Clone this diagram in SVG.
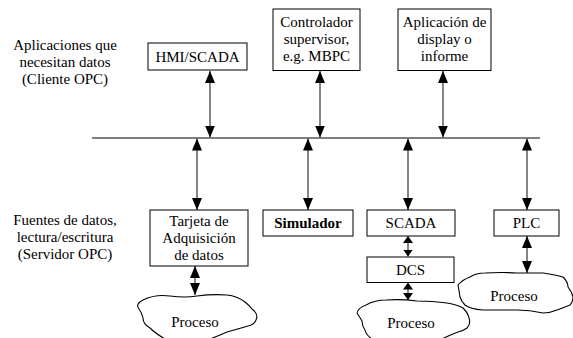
<svg xmlns="http://www.w3.org/2000/svg" width="573" height="338" viewBox="0 0 573 338">
<style>
text{font-family:"Liberation Serif","DejaVu Serif",serif;font-size:15px;fill:#000;text-anchor:middle}
.b{fill:#fff;stroke:#000;stroke-width:1}
.c{fill:#fff;stroke:#000;stroke-width:1.1}
.a{stroke:#444;stroke-width:1.3;fill:none}
.bus{stroke:#000;stroke-width:1}
</style>
<defs>
<marker id="h" viewBox="0 0 12 10" refX="12" refY="5" markerWidth="12" markerHeight="10" markerUnits="userSpaceOnUse" orient="auto-start-reverse"><path d="M0,0 L12,5 L0,10 z" fill="#000"/></marker>
<marker id="s" viewBox="0 0 7 10" refX="7" refY="5" markerWidth="7" markerHeight="10" markerUnits="userSpaceOnUse" orient="auto-start-reverse"><path d="M0,0 L7,5 L0,10 z" fill="#000"/></marker>
</defs>
<g id="labels" font-family="Liberation Serif, DejaVu Serif, serif">
<text x="65" y="50">Aplicaciones que</text>
<text x="65" y="67">necesitan datos</text>
<text x="65" y="84">(Cliente OPC)</text>
<text x="65" y="225">Fuentes de datos,</text>
<text x="65" y="242">lectura/escritura</text>
<text x="65" y="259">(Servidor OPC)</text>
</g>
<g id="connectors">
<line class="bus" x1="92" y1="138" x2="540" y2="138"/>
<line class="a" x1="210" y1="71" x2="210" y2="137.5" marker-start="url(#h)" marker-end="url(#h)"/>
<line class="a" x1="320" y1="71" x2="320" y2="137.5" marker-start="url(#h)" marker-end="url(#h)"/>
<line class="a" x1="443" y1="71" x2="443" y2="137.5" marker-start="url(#h)" marker-end="url(#h)"/>
<line class="a" x1="197" y1="138.5" x2="197" y2="210" marker-start="url(#h)" marker-end="url(#h)"/>
<line class="a" x1="308" y1="138.5" x2="308" y2="210" marker-start="url(#h)" marker-end="url(#h)"/>
<line class="a" x1="408" y1="138.5" x2="408" y2="210" marker-start="url(#h)" marker-end="url(#h)"/>
<line class="a" x1="527" y1="138.5" x2="527" y2="210" marker-start="url(#h)" marker-end="url(#h)"/>
<line class="a" x1="195" y1="266" x2="195" y2="295" marker-start="url(#h)" marker-end="url(#h)"/>
<line class="a" x1="408" y1="236" x2="408" y2="256.5" marker-start="url(#s)" marker-end="url(#s)"/>
<line class="a" x1="408" y1="282.5" x2="408" y2="300" marker-start="url(#s)" marker-end="url(#s)"/>
<line class="a" x1="527" y1="236" x2="527" y2="273" marker-start="url(#h)" marker-end="url(#h)"/>
</g>
<g id="hmi"><rect class="b" x="148" y="43" width="99" height="27"/><text x="197.5" y="62">HMI/SCADA</text></g>
<g id="controlador"><rect class="b" x="273" y="9" width="87" height="61.5"/><text x="316.5" y="27">Controlador</text><text x="316.5" y="44">supervisor,</text><text x="316.5" y="61">e.g. MBPC</text></g>
<g id="aplicacion"><rect class="b" x="398" y="9" width="93" height="61.5"/><text x="444.5" y="27">Aplicación de</text><text x="444.5" y="44">display o</text><text x="444.5" y="61">informe</text></g>
<g id="tarjeta"><rect class="b" x="150" y="210" width="98" height="56"/><text x="199" y="226">Tarjeta de</text><text x="199" y="243">Adquisición</text><text x="199" y="260">de datos</text></g>
<g id="simulador"><rect class="b" x="263" y="210" width="90" height="26"/><text x="308" y="228" font-weight="bold">Simulador</text></g>
<g id="scada"><rect class="b" x="367" y="210" width="88" height="26"/><text x="411" y="228">SCADA</text></g>
<g id="dcs"><rect class="b" x="367" y="257" width="87" height="25.5"/><text x="410.5" y="275">DCS</text></g>
<g id="plc"><rect class="b" x="494" y="210" width="65" height="26"/><text x="526.5" y="228">PLC</text></g>
<g id="proceso1"><path class="c" d="M143,300 Q155,294 170,296 Q185,298 197,296 Q212,294 227,295 Q237,296 245,302 Q250,306 252,309 Q259,314 256,320 Q254,325 248,326 Q238,329 227,332 Q218,336 210,339 L165,339 Q155,333 150,328 Q143,324 143,318 Q142,313 139,309 Q135,304 143,300 z"/><text x="195" y="327">Proceso</text></g>
<g id="proceso2"><path class="c" d="M366,305 Q375,300 386,300 Q402,299 417,301 Q433,301 447,303 Q458,305 463,308 Q468,313 469,318 Q471,324 467,328 Q463,331 458,332 Q450,335 442,339 L372,339 Q366,335 365,330 Q362,326 362,321 Q359,316 357,313 Q358,308 366,305 z"/><text x="411" y="328">Proceso</text></g>
<g id="proceso3"><path class="c" d="M470,277 Q476,273 485,273 Q500,272 517,273 Q532,273 543,273 Q556,275 563,277 Q568,282 568,287 Q572,292 573,297 Q573,302 570,305 Q563,308 557,310 Q550,313 543,313 Q530,310 517,310 Q500,310 483,310 Q470,309 465,305 Q461,301 460,297 Q459,290 458,285 Q462,280 470,277 z"/><text x="514" y="301">Proceso</text></g>
</svg>
